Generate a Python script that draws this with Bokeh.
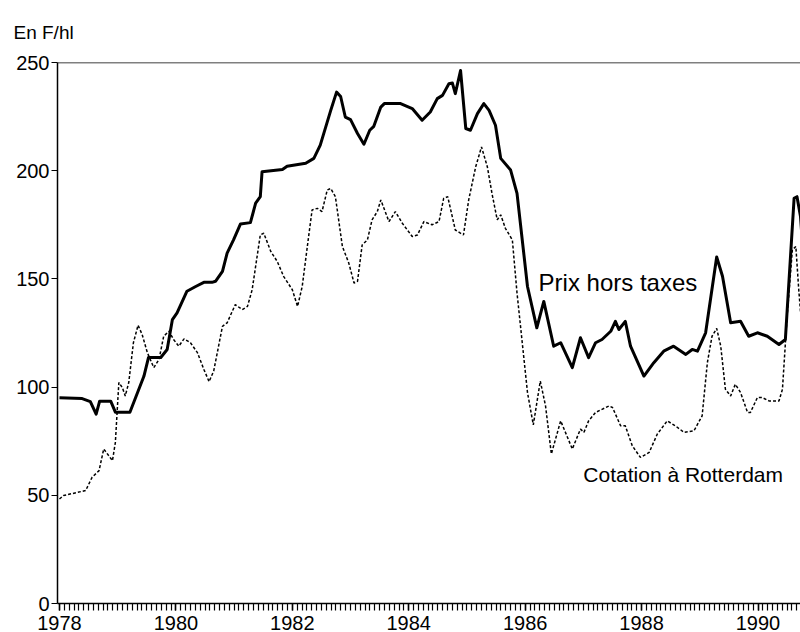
from bokeh.plotting import figure
from bokeh.models import Range1d, FixedTicker, Label, Span, Title
from bokeh.embed import file_html
from bokeh.resources import INLINE

# --- data ---
prix_x = [1978.0, 1978.39, 1978.53, 1978.63, 1978.69, 1978.88, 1978.96, 1979.21, 1979.31, 1979.45,
          1979.53, 1979.74, 1979.85, 1979.94, 1980.02, 1980.19, 1980.34, 1980.48, 1980.62, 1980.68,
          1980.80, 1980.88, 1980.99, 1981.11, 1981.28, 1981.37, 1981.45, 1981.48, 1981.83, 1981.91,
          1982.23, 1982.37, 1982.48, 1982.66, 1982.76, 1982.83, 1982.91, 1983.00, 1983.12, 1983.23,
          1983.33, 1983.40, 1983.52, 1983.58, 1983.86, 1984.06, 1984.23, 1984.37, 1984.49, 1984.58,
          1984.69, 1984.75, 1984.80, 1984.89, 1984.98, 1985.06, 1985.18, 1985.29, 1985.38, 1985.49,
          1985.58, 1985.75, 1985.86, 1986.04, 1986.20, 1986.32, 1986.49, 1986.61, 1986.81, 1986.95,
          1987.09, 1987.21, 1987.32, 1987.47, 1987.55, 1987.61, 1987.72, 1987.81, 1988.04, 1988.21,
          1988.38, 1988.55, 1988.76, 1988.87, 1988.96, 1989.10, 1989.29, 1989.39, 1989.53, 1989.70,
          1989.84, 1989.99, 1990.16, 1990.36, 1990.47, 1990.62, 1990.67, 1990.73, 1990.78]
prix_y = [95.1, 94.7, 93.3, 87.5, 93.5, 93.5, 88.4, 88.4, 95.3, 105.0,
          113.7, 113.7, 117.4, 131.2, 134.3, 144.3, 146.5, 148.4, 148.4, 148.9,
          153.5, 161.9, 168.0, 175.4, 176.0, 185.0, 188.0, 199.5, 200.6, 202.1,
          203.4, 205.7, 211.8, 227.9, 236.3, 234.3, 224.8, 223.6, 217.2, 212.2,
          218.7, 220.5, 229.4, 231.0, 231.0, 228.7, 223.3, 227.1, 233.3, 234.8,
          240.2, 240.5, 235.6, 246.3, 219.5, 218.7, 226.4, 231.0, 227.9, 221.0,
          205.7, 200.3, 189.5, 146.5, 127.4, 139.6, 118.9, 120.5, 109.0, 122.8,
          113.6, 120.5, 122.0, 125.8, 130.4, 126.6, 130.4, 118.9, 105.1, 111.3,
          116.6, 118.9, 115.1, 117.4, 116.6, 125.1, 160.1, 151.2, 129.7, 130.4,
          123.5, 125.1, 123.5, 119.7, 122.0, 187.2, 188.0, 178.8, 160.0]

rott_x = [1978.0, 1978.07, 1978.45, 1978.56, 1978.68, 1978.76, 1978.91, 1978.96, 1978.99, 1979.02,
          1979.08, 1979.13, 1979.19, 1979.27, 1979.35, 1979.42, 1979.51, 1979.62, 1979.71, 1979.79,
          1979.88, 1979.96, 1980.05, 1980.14, 1980.25, 1980.37, 1980.48, 1980.57, 1980.65, 1980.77,
          1980.80, 1980.88, 1981.02, 1981.14, 1981.23, 1981.31, 1981.45, 1981.51, 1981.63, 1981.74,
          1981.85, 1982.00, 1982.09, 1982.17, 1982.28, 1982.34, 1982.43, 1982.51, 1982.60, 1982.66,
          1982.74, 1982.86, 1982.97, 1983.06, 1983.12, 1983.20, 1983.29, 1983.37, 1983.46, 1983.52,
          1983.66, 1983.77, 1983.89, 1984.06, 1984.15, 1984.26, 1984.40, 1984.52, 1984.60, 1984.67,
          1984.80, 1984.94, 1985.03, 1985.15, 1985.25, 1985.35, 1985.43, 1985.52, 1985.58, 1985.66,
          1985.78, 1985.86, 1985.95, 1986.04, 1986.14, 1986.26, 1986.35, 1986.45, 1986.61, 1986.81,
          1986.95, 1987.01, 1987.09, 1987.21, 1987.44, 1987.50, 1987.64, 1987.72, 1987.84, 1987.98,
          1988.13, 1988.27, 1988.44, 1988.58, 1988.73, 1988.90, 1989.04, 1989.13, 1989.21, 1989.29,
          1989.36, 1989.44, 1989.53, 1989.61, 1989.70, 1989.82, 1989.87, 1989.99, 1990.07, 1990.19,
          1990.36, 1990.42, 1990.50, 1990.59, 1990.65, 1990.70, 1990.76]
rott_y = [48.3, 49.9, 52.2, 58.3, 61.4, 71.4, 66.0, 74.4, 88.3, 102.1,
          99.8, 95.9, 102.1, 120.5, 128.6, 124.3, 115.9, 109.0, 112.8, 123.5,
          125.8, 122.0, 118.9, 122.3, 120.5, 115.9, 108.2, 102.5, 107.5, 124.0,
          128.1, 129.7, 138.1, 135.8, 137.3, 145.0, 170.3, 171.1, 162.7, 158.1,
          151.2, 145.0, 137.3, 146.5, 169.6, 181.9, 182.6, 181.1, 191.1, 191.8,
          188.0, 165.0, 157.3, 148.1, 148.9, 165.7, 168.0, 177.3, 181.1, 186.5,
          176.5, 181.1, 175.7, 169.6, 170.3, 176.5, 175.0, 176.5, 187.2, 188.0,
          172.6, 170.3, 186.5, 201.8, 211.0, 201.8, 189.5, 177.3, 179.6, 173.4,
          168.0, 143.5, 120.5, 97.5, 82.5, 102.8, 91.3, 69.1, 84.4, 71.4,
          80.6, 79.1, 84.4, 88.3, 91.3, 90.6, 82.1, 82.1, 72.9, 67.5,
          69.8, 78.3, 84.4, 82.1, 79.1, 79.8, 86.7, 111.3, 123.5, 127.1,
          118.9, 99.0, 95.9, 101.3, 97.5, 88.3, 88.3, 95.2, 95.2, 93.6,
          93.6, 99.0, 132.7, 163.4, 165.0, 145.0, 125.0]

year_ticks = [1978, 1980, 1982, 1984, 1986, 1988, 1990]
month_ticks = [round(1978 + m / 12, 4) for m in range(0, 154)]
y_ticks = [0, 50, 100, 150, 200, 250]

label_prix = "Prix hors taxes"
label_rott = "Cotation à Rotterdam"
unit_label = "En F/hl"

FONT = "Liberation Sans"

p = figure(width=800, height=632, output_backend="svg", toolbar_location=None,
           title=None,
           x_range=Range1d(1977.966, 1990.73), y_range=Range1d(0, 250),
           min_border_left=57, min_border_right=0, min_border_top=62, min_border_bottom=0)

p.background_fill_color = "white"
p.border_fill_color = "white"
p.outline_line_color = None
p.xgrid.visible = False
p.ygrid.visible = False

p.add_layout(Span(location=250, dimension="width", line_color="black", line_width=1.5))

p.line(prix_x, prix_y, line_color="black", line_width=3, line_join="round")
p.line(rott_x, rott_y, line_color="black", line_width=1.5, line_dash="3 2")

xa = p.xaxis[0]
xa.ticker = FixedTicker(ticks=year_ticks, minor_ticks=month_ticks)
xa.axis_line_color = "black"
xa.axis_line_width = 1.5
xa.major_tick_in = 0
xa.major_tick_out = 7
xa.minor_tick_in = 0
xa.minor_tick_out = 7
xa.major_tick_line_color = "black"
xa.minor_tick_line_color = "black"
xa.major_tick_line_width = 1.5
xa.minor_tick_line_width = 1.2
xa.major_label_text_font = FONT
xa.major_label_text_font_size = "20px"
xa.major_label_text_color = "black"
xa.major_label_standoff = 5

ya = p.yaxis[0]
ya.ticker = FixedTicker(ticks=y_ticks)
ya.axis_line_color = "black"
ya.axis_line_width = 1.5
ya.major_tick_in = 0
ya.major_tick_out = 6
ya.minor_tick_line_color = None
ya.major_tick_line_color = "black"
ya.major_label_text_font = FONT
ya.major_label_text_font_size = "20px"
ya.major_label_text_color = "black"
ya.major_label_standoff = 2

p.add_layout(Title(text=unit_label, align="left", offset=-44, standoff=35,
                   vertical_align="top",
                   text_font=FONT, text_font_size="19px", text_font_style="normal",
                   text_color="black"), "above")
p.add_layout(Label(x=1986.23, y=148.5, text=label_prix,
                   text_font=FONT, text_font_size="24px", text_color="black",
                   text_baseline="alphabetic", text_align="left"))
p.add_layout(Label(x=1987.0, y=59.5, text=label_rott,
                   text_font=FONT, text_font_size="21px", text_color="black",
                   text_baseline="alphabetic", text_align="left"))

open("out.html", "w").write(file_html(p, INLINE))
